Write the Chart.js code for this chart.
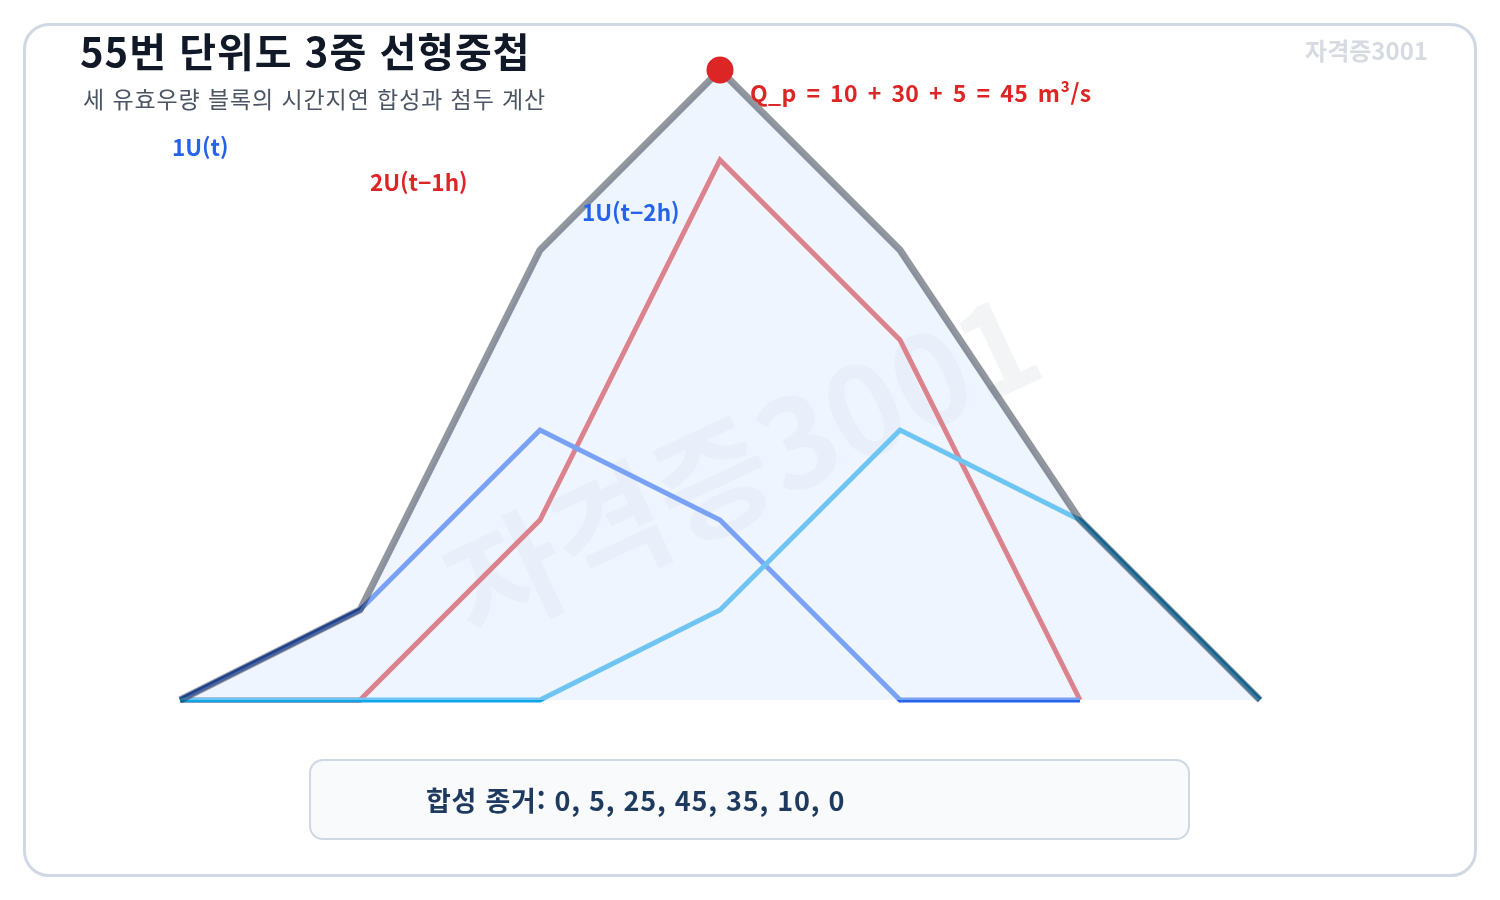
<!DOCTYPE html>
<html lang="ko">
<head>
<meta charset="utf-8">
<script src="https://cdn.jsdelivr.net/npm/chart.js@4.4.1/dist/chart.umd.min.js"></script>
<style>
  html, body { margin: 0; padding: 0; background: #ffffff; }
  #wrap { position: relative; width: 1500px; height: 900px; overflow: hidden;
          font-family: "Noto Sans CJK KR", "Noto Sans", sans-serif; }
  #card { position: absolute; left: 23px; top: 23px; width: 1448px; height: 848px;
          border: 3px solid #cfd8e3; border-radius: 26px; background: #ffffff; }
  #c { position: absolute; left: 0; top: 0; }
  .t { position: absolute; white-space: nowrap; line-height: 1; }
  #title { left: 80px; top: 30px; font-size: 40px; font-weight: 700; color: #111827; letter-spacing: 1px; }
  #subtitle { left: 83px; top: 87px; font-size: 23px; font-weight: 400; color: #4b5563; letter-spacing: 0.9px; }
  #wm { right: 72px; top: 38px; font-size: 24px; font-weight: 700; color: #d6dbe2; }
  #box { position: absolute; left: 309px; top: 759px; width: 877px; height: 77px;
         border: 2.5px solid #cfd8e3; border-radius: 14px; background: #f8fafc; }
  #boxtext { left: 426px; top: 786px; font-size: 27px; font-weight: 700; color: #1e3a5f; letter-spacing: 0.75px; }
</style>
</head>
<body>
<div id="wrap">
  <div id="card"></div>
  <div id="box"></div>
  <canvas id="c" width="1500" height="900"></canvas>
  <div class="t" id="title">55번 단위도 3중 선형중첩</div>
  <div class="t" id="subtitle">세 유효우량 블록의 시간지연 합성과 첨두 계산</div>
  <div class="t" id="wm">자격증3001</div>
  <div class="t" id="boxtext"></div>
</div>
<script>
// ---- data ----
const hours = ['0', '1', '2', '3', '4', '5', '6'];
const u1 = [0, 5, 15, 10, 0, 0, null];        // 1U(t)
const u2 = [0, 0, 10, 30, 20, 0, null];       // 2U(t-1h)
const u3 = [0, 0, 0, 5, 15, 10, 0];           // 1U(t-2h)
const totalLine = [0, 5, 25, 35, 25, 10, 0];  // drawn envelope
const peakPoint = [null, null, null, 35, null, null, null];
const ordinates = [0, 5, 25, 45, 35, 10, 0];  // 합성 종거
const seriesLabels = ['1U(t)', '2U(t\u22121h)', '1U(t\u22122h)'];
const peakText = 'Q_p = 10 + 30 + 5 = 45 m\u00b3/s';

document.getElementById('boxtext').textContent = '합성 종거: ' + ordinates.join(', ');

const FONT = '"Noto Sans CJK KR", "Noto Sans", sans-serif';

const watermarkPlugin = {
  id: 'watermark',
  beforeDatasetsDraw(chart) {
    const ctx = chart.ctx;
    ctx.save();
    ctx.translate(742, 466);
    ctx.rotate(-25 * Math.PI / 180);
    ctx.font = '700 124px ' + FONT;
    ctx.fillStyle = 'rgba(100,116,139,0.08)';
    ctx.textAlign = 'center';
    ctx.textBaseline = 'middle';
    ctx.fillText('자격증3001', 0, 0);
    ctx.restore();
  }
};

const labelPlugin = {
  id: 'labels',
  afterDatasetsDraw(chart) {
    const ctx = chart.ctx;
    ctx.save();
    ctx.textBaseline = 'middle';
    ctx.textAlign = 'left';
    ctx.font = '700 22.5px ' + FONT;
    ctx.fillStyle = '#2563eb';
    ctx.fillText(seriesLabels[0], 172, 147);
    ctx.fillStyle = '#dc2626';
    ctx.fillText(seriesLabels[1], 370, 182);
    ctx.fillStyle = '#2563eb';
    ctx.fillText(seriesLabels[2], 582, 212);
    ctx.fillStyle = '#dc2626';
    ctx.font = '700 23px ' + FONT;
    if ('wordSpacing' in ctx) ctx.wordSpacing = '3px';
    if ('letterSpacing' in ctx) ctx.letterSpacing = '0.35px';
    ctx.fillText(peakText, 750, 93);
    ctx.restore();
  }
};

new Chart(document.getElementById('c'), {
  type: 'line',
  data: {
    labels: hours,
    datasets: [
      { label: 'peak', data: peakPoint, showLine: false, pointRadius: 13.5,
        pointBackgroundColor: '#dc2626', pointBorderWidth: 0, clip: false },
      { label: '합성', data: totalLine, borderColor: 'rgba(17,24,39,0.45)', borderWidth: 7,
        fill: 'origin', backgroundColor: 'rgba(219,234,254,0.47)', pointRadius: 0, clip: false },
      { label: seriesLabels[2], data: u3, borderColor: '#0ea5e9', borderWidth: 5,
        fill: false, pointRadius: 0, clip: false },
      { label: seriesLabels[0], data: u1, borderColor: '#2563eb', borderWidth: 5,
        fill: false, pointRadius: 0, clip: false },
      { label: seriesLabels[1], data: u2, borderColor: '#dc2626', borderWidth: 5,
        fill: false, pointRadius: 0, clip: false }
    ]
  },
  options: {
    responsive: false,
    devicePixelRatio: 1,
    animation: false,
    layout: { padding: { left: 180, right: 240, top: 70, bottom: 200 } },
    elements: { line: { tension: 0, borderJoinStyle: 'miter' } },
    scales: {
      x: { display: false, offset: false },
      y: { display: false, min: 0, max: 35 }
    },
    plugins: {
      legend: { display: false },
      tooltip: { enabled: false },
      title: { display: false }
    }
  },
  plugins: [watermarkPlugin, labelPlugin]
});
</script>
</body>
</html>
